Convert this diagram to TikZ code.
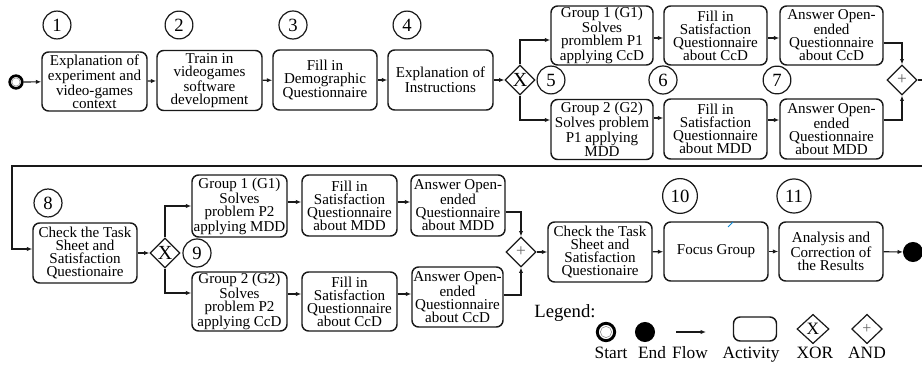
\documentclass[tikz,border=0pt]{standalone}
\usepackage{fontspec}
\setmainfont{Liberation Serif}
\usetikzlibrary{shapes.geometric,arrows.meta}
\begin{document}
\begin{tikzpicture}[x=0.75pt,y=-0.75pt,
  box/.style n args={2}{draw=black!90, line width=1.1pt, rounded corners=5pt,
    minimum width=#1*0.75pt, minimum height=#2*0.75pt, inner sep=0pt,
    align=center, font=\fontsize{11.3}{9.8}\selectfont},
  num/.style={circle, draw=black!90, line width=0.9pt, inner sep=3.3pt,
    font=\fontsize{14}{14}\selectfont},
  gw/.style={diamond, draw=black!90, line width=0.9pt, minimum width=22.5pt,
    minimum height=22.5pt, inner sep=0pt},
  flow/.style={draw=black!90, line width=0.9pt, -{Latex[length=4pt,width=3.2pt]}},
  startc/.style={circle, draw, line width=2pt, minimum size=9.5pt, inner sep=0pt, fill=white},
  startbig/.style={circle, draw, line width=2.2pt, minimum size=13pt, inner sep=0pt, fill=white},
  endc/.style={circle, draw, fill=black, line width=1pt, minimum size=14pt, inner sep=0pt},
  lbl/.style={font=\fontsize{13}{15}\selectfont, inner sep=0pt, anchor=base}
]
\useasboundingbox (0,0) rectangle (922,366);

% ---------- row 1 ----------
\node[startc] (s) at (16,82) {};
\draw[black!45, line width=0.4pt] (s.center) circle[radius=3.1pt];

\node[box={105}{59}] (b1) at (94.5,81.5) {Explanation of\\experiment and\\video-games\\context};
\node[box={105}{60}] (b2) at (209.5,80.5) {Train in\\videogames\\software\\development};
\node[box={104}{60}] (b3) at (325,80) {Fill in\\Demographic\\Questionnaire};
\node[box={105}{60}] (b4) at (440.5,80) {Explanation of\\Instructions};

\node[num] (n1) at (57,25) {1};
\node[num] (n2) at (179,25) {2};
\node[num] (n3) at (293,25) {3};
\node[num] (n4) at (407,25) {4};

\node[gw] (x5) at (520,80) {\fontsize{15}{15}\selectfont X};
\node[num] (n5) at (551,80) {5};

\node[box={102}{59}] (g1) at (602,35.5) {Group 1 (G1)\\Solves\\promblem P1\\applying CcD};
\node[box={102}{60}] (g2) at (602,129.5) {Group 2 (G2)\\Solves problem\\P1 applying\\MDD};
\node[box={103}{59}] (f1) at (715.5,35.5) {Fill in\\Satisfaction\\Questionnaire\\about CcD};
\node[box={103}{60}] (f2) at (715.5,129) {Fill in\\Satisfaction\\Questionnaire\\about MDD};
\node[box={103}{59}] (a1) at (831.5,35.5) {Answer Open-\\ended\\Questionnaire\\about CcD};
\node[box={103}{60}] (a2) at (831.5,129) {Answer Open-\\ended\\Questionnaire\\about MDD};
\node[num] (n6) at (663,80) {6};
\node[num] (n7) at (777,80) {7};
\node[gw] (and1) at (902,80) {\fontsize{13}{13}\selectfont\color{black!60}+};

\draw[flow] (s) -- (b1);
\draw[flow] (b1) -- (b2);
\draw[flow] (b2) -- (b3);
\draw[flow] (b3) -- (b4);
\draw[flow] (b4) -- (x5);
\draw[flow] (x5.north) |- (g1.west |- 0,40);
\draw[flow] (x5.south) |- (g2.west |- 0,120);
\draw[flow] (g1.east |- 0,38) -- (f1.west |- 0,38);
\draw[flow] (f1.east |- 0,38) -- (a1.west |- 0,38);
\draw[flow] (g2.east |- 0,118) -- (f2.west |- 0,118);
\draw[flow] (f2.east |- 0,120) -- (a2.west |- 0,120);
\draw[flow] (a1.east |- 0,43) -| (and1.north);
\draw[flow] (a2.east |- 0,120) -| (and1.south);

% ---------- row 2 ----------
\node[box={104}{60}] (b8) at (85,253) {Check the Task\\Sheet and\\Satisfaction\\Questionaire};
\node[num] (n8) at (48,203) {8};
\draw[flow] (and1.east) -- (940,80) -- (940,166) -- (12,166) |- (b8.west |- 0,249);

\node[gw] (x9) at (165,253) {\fontsize{15}{15}\selectfont X};
\node[num] (n9) at (197,253) {9};

\node[box={95}{62}] (h1) at (239.5,206) {Group 1 (G1)\\Solves\\problem P2\\applying MDD};
\node[box={95}{59}] (h2) at (239.5,301.5) {Group 2 (G2)\\Solves\\problem P2\\applying CcD};
\node[box={95}{61}] (i1) at (349.5,205.5) {Fill in\\Satisfaction\\Questionnaire\\about MDD};
\node[box={95}{59}] (i2) at (349.5,301.5) {Fill in\\Satisfaction\\Questionnaire\\about CcD};
\node[box={94}{61}] (j1) at (458,205.5) {Answer Open-\\ended\\Questionnaire\\about MDD};
\node[box={91}{60}] (j2) at (457.5,297) {Answer Open-\\ended\\Questionnaire\\about CcD};
\node[gw] (and2) at (521,252) {\fontsize{13}{13}\selectfont\color{black!60}+};

\node[box={104}{60}] (c2) at (600,252) {Check the Task\\Sheet and\\Satisfaction\\Questionaire};
\node[box={104}{59}] (fg) at (716,251.5) {Focus Group};
\node[box={104}{59}] (an) at (831,251.5) {Analysis and\\Correction of\\the Results};
\node[num] (n10) at (680,196) {10};
\node[num] (n11) at (794,196) {11};
\node[endc] (e) at (913,252) {};
\draw[cyan!70!blue, line width=0.6pt] (728,227) -- (733,222);

\draw[flow] (b8.east) -- (x9.west);
\draw[flow] (x9.north) |- (h1.west |- 0,206);
\draw[flow] (x9.south) |- (h2.west |- 0,293);
\draw[flow] (h1.east |- 0,202) -- (i1.west |- 0,202);
\draw[flow] (i1.east |- 0,202) -- (j1.west |- 0,202);
\draw[flow] (h2.east |- 0,294) -- (i2.west |- 0,294);
\draw[flow] (i2.east |- 0,294) -- (j2.west |- 0,294);
\draw[flow] (j1.east |- 0,212) -| (and2.north);
\draw[flow] (j2.east |- 0,295) -| (and2.south);
\draw[flow] (and2) -- (c2);
\draw[flow] (c2) -- (fg);
\draw[flow] (fg) -- (an);
\draw[flow] (an) -- (e);

% ---------- legend ----------
\node[lbl, font=\fontsize{14}{15}\selectfont] (lg) at (565,318) {Legend:};
\node[startbig] (ls) at (606,332) {};
\draw[black!45, line width=0.4pt] (ls.center) circle[radius=4.2pt];
\node[endc] (le) at (645,332) {};
\coordinate (lf1) at (676,332);
\coordinate (lf2) at (706,332);
\draw[flow, line width=0.8pt] (lf1) -- (lf2);
\node[box={43}{24}] (la) at (755,329) {};
\node[gw, minimum width=24pt, minimum height=22pt] (lx) at (813,329) {\fontsize{13}{13}\selectfont X};
\node[gw, minimum width=23pt, minimum height=22pt] (ln) at (867,329) {\fontsize{12}{12}\selectfont\color{black!60}+};
\node[lbl] (t1) at (611,359) {Start};
\node[lbl] (t2) at (652,359) {End};
\node[lbl] (t3) at (690,359) {Flow};
\node[lbl] (t4) at (751,359) {Activity};
\node[lbl] (t5) at (815,359) {XOR};
\node[lbl] (t6) at (867,359) {AND};
\end{tikzpicture}
\end{document}
